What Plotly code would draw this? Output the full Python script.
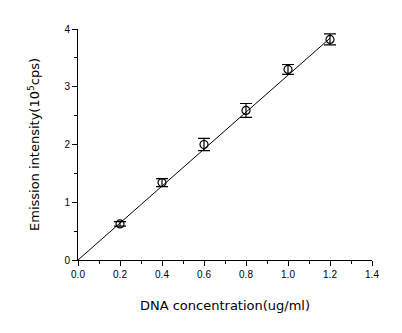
import plotly.graph_objects as go

conc = [0.2, 0.4, 0.6, 0.8, 1.0, 1.2]
intensity = [0.625, 1.34, 2.00, 2.59, 3.30, 3.82]
err = [0.04, 0.07, 0.105, 0.12, 0.085, 0.095]
fit_x = [0.0, 1.2]
fit_y = [0.0, 3.84]
x_ticks = [0.0, 0.2, 0.4, 0.6, 0.8, 1.0, 1.2, 1.4]
y_ticks = [0, 1, 2, 3, 4]

fig = go.Figure()
fig.add_trace(go.Scatter(x=fit_x, y=fit_y, mode="lines",
                         line=dict(color="black", width=1), showlegend=False))
fig.add_trace(go.Scatter(x=conc, y=intensity, mode="markers",
                         marker=dict(symbol="circle-open", size=8, color="black",
                                     line=dict(width=1.2, color="black")),
                         error_y=dict(type="data", array=err, visible=True,
                                      color="black", thickness=1.2, width=6),
                         showlegend=False))

font = "Liberation Sans, Arial, sans-serif"
title_font = "DejaVu Sans, sans-serif"
fig.update_layout(
    width=402, height=333,
    margin=dict(l=78, r=30, t=29, b=73),
    paper_bgcolor="white", plot_bgcolor="white",
    font=dict(family=font, color="black", size=10),
    xaxis=dict(range=[0, 1.4], tickvals=x_ticks,
               ticktext=[f"{v:.1f}" for v in x_ticks],
               showgrid=False, zeroline=False, showline=True,
               linecolor="black", linewidth=1, ticks="outside",
               ticklen=5, tickwidth=1, tickcolor="black",
               minor=dict(dtick=0.1, ticks="outside", ticklen=3, tickcolor="black"),
               tickfont=dict(size=10),
               title=dict(text="DNA concentration(ug/ml)",
                          font=dict(size=13, family=title_font), standoff=21)),
    yaxis=dict(range=[0, 4], tickvals=y_ticks,
               showgrid=False, zeroline=False, showline=True,
               linecolor="black", linewidth=1, ticks="outside",
               ticklen=5, tickwidth=1, tickcolor="black",
               minor=dict(dtick=0.5, ticks="outside", ticklen=3, tickcolor="black"),
               tickfont=dict(size=10),
               title=dict(text="Emission intensity(10<sup>5</sup>cps)",
                          font=dict(size=13, family=title_font), standoff=21)),
)
fig.write_html("out.html")
